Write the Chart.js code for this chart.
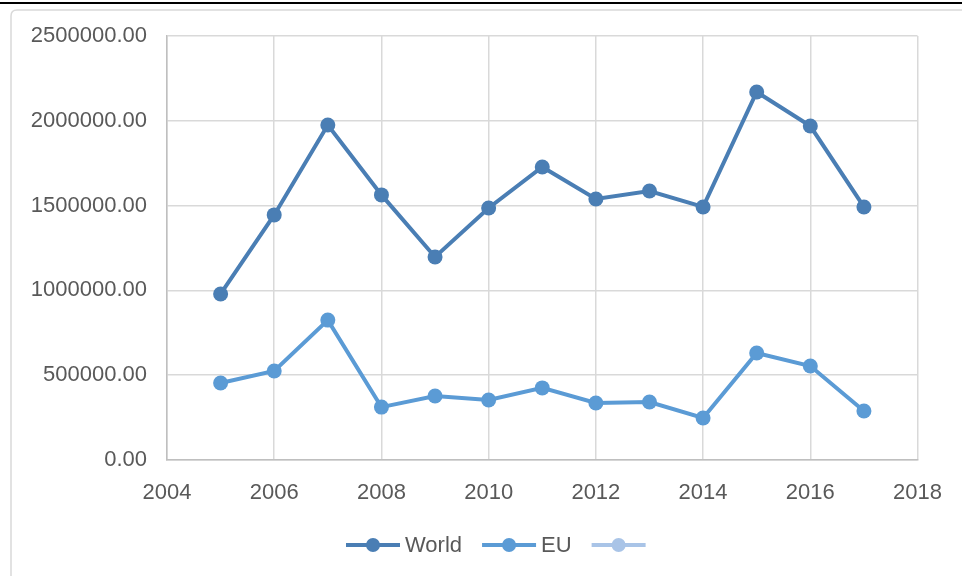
<!DOCTYPE html>
<html>
<head>
<meta charset="utf-8">
<script src="https://cdn.jsdelivr.net/npm/chart.js@4"></script>
<style>
  html, body { margin: 0; padding: 0; background: #fff; }
  #wrap { width: 962px; height: 576px; position: relative; }
</style>
</head>
<body>
<div id="wrap"><canvas id="chart" width="962" height="576"></canvas></div>
<script>
const years = [2005, 2006, 2007, 2008, 2009, 2010, 2011, 2012, 2013, 2014, 2015, 2016, 2017];
const world = [979000, 1445000, 1975000, 1563000, 1197000, 1486000, 1728000, 1539000, 1586000, 1492000, 2170000, 1969000, 1492000];
const eu = [454000, 525000, 825000, 312000, 377000, 354000, 425000, 336000, 342000, 248000, 631000, 554000, 289000];
const seriesNames = ["World", "EU", ""];

const colors = ["#4A7EB4", "#5B9BD5", "#A9C4E7"];
const textColor = "#595959";
const gridColor = "#D9D9D9";
const font = "Liberation Sans, Arial, sans-serif";

function toPoints(vals) {
  return vals.map((v, i) => ({ x: years[i], y: v }));
}

// frame around the figure + legend at the bottom
const framePlugin = {
  id: "frame",
  beforeDraw(chart) {
    const ctx = chart.ctx;
    ctx.save();
    ctx.fillStyle = "#000";
    ctx.fillRect(0, 2, 962, 2);
    ctx.strokeStyle = gridColor;
    ctx.lineWidth = 1.5;
    ctx.beginPath();
    ctx.moveTo(11, 580);
    ctx.lineTo(11, 16);
    ctx.quadraticCurveTo(11, 10, 17, 10);
    ctx.lineTo(970, 10);
    ctx.stroke();
    ctx.restore();
  },
  afterDraw(chart) {
    const ctx = chart.ctx;
    ctx.save();
    ctx.font = "22px " + font;
    ctx.textBaseline = "middle";
    let x = 346;
    const y = 545;
    chart.data.datasets.forEach((ds, i) => {
      ctx.strokeStyle = ds.borderColor;
      ctx.lineWidth = 4;
      ctx.beginPath();
      ctx.moveTo(x, y);
      ctx.lineTo(x + 54, y);
      ctx.stroke();
      ctx.fillStyle = ds.backgroundColor;
      ctx.beginPath();
      ctx.arc(x + 27, y, 7, 0, Math.PI * 2);
      ctx.fill();
      x += 59;
      if (ds.label) {
        ctx.fillStyle = textColor;
        ctx.fillText(ds.label, x, y + 1);
        x += ctx.measureText(ds.label).width + 20;
      }
    });
    ctx.restore();
  },
};

new Chart(document.getElementById("chart"), {
  type: "line",
  data: {
    datasets: [
      { label: seriesNames[0], data: toPoints(world) },
      { label: seriesNames[1], data: toPoints(eu) },
      { label: seriesNames[2], data: [] },
    ].map((ds, i) => ({
      ...ds,
      borderColor: colors[i],
      backgroundColor: colors[i],
      borderWidth: 4,
      pointRadius: 7.5,
      pointBorderWidth: 0,
      tension: 0,
    })),
  },
  options: {
    responsive: false,
    animation: false,
    devicePixelRatio: 1,
    layout: { padding: { left: 20, top: 36, right: 44, bottom: 76 } },
    plugins: { legend: { display: false }, tooltip: { enabled: false } },
    scales: {
      x: {
        type: "linear",
        min: 2004,
        max: 2018,
        afterFit: (s) => { s.height = 40; },
        ticks: { stepSize: 2, color: textColor, padding: 20, font: { size: 22, family: font }, callback: (v) => String(v) },
        grid: { color: gridColor, lineWidth: 1.5, drawTicks: false },
        border: { color: "#BFBFBF", width: 1.5 },
      },
      y: {
        min: 0,
        max: 2500000,
        afterFit: (s) => { s.width = 147; },
        ticks: { stepSize: 500000, color: textColor, padding: 20, font: { size: 22, family: font }, callback: (v) => v.toFixed(2) },
        grid: { color: gridColor, lineWidth: 1.5, drawTicks: false },
        border: { color: "#BFBFBF", width: 1.5 },
      },
    },
  },
  plugins: [framePlugin],
});
</script>
</body>
</html>
